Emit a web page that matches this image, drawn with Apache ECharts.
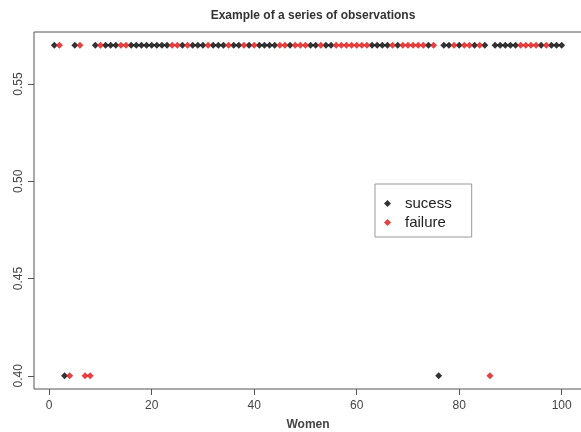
<!DOCTYPE html>
<html>
<head>
<meta charset="utf-8">
<script src="https://cdn.jsdelivr.net/npm/echarts@6/dist/echarts.min.js"></script>
<style>html,body{margin:0;padding:0;background:#fff}#c{width:581px;height:432px}</style>
</head>
<body>
<div id="c"></div>
<script>
const title = "Example of a series of observations";
const xName = "Women";
const xTicks = [0, 20, 40, 60, 80, 100];
const yTicks = [0.40, 0.45, 0.50, 0.55];
const legendNames = ["sucess", "failure"];

const successX = [1, 3, 5, 9, 11, 12, 13, 16, 17, 18, 19, 20, 21, 22, 23, 26, 28, 29, 30, 32, 33, 34, 36, 37, 39, 41, 42, 43, 44, 47, 51, 52, 54, 55, 63, 64, 65, 66, 68, 74, 76, 77, 78, 80, 83, 85, 87, 88, 89, 90, 91, 96, 98, 99, 100];
const successY = [0.57, 0.40, 0.57, 0.57, 0.57, 0.57, 0.57, 0.57, 0.57, 0.57, 0.57, 0.57, 0.57, 0.57, 0.57, 0.57, 0.57, 0.57, 0.57, 0.57, 0.57, 0.57, 0.57, 0.57, 0.57, 0.57, 0.57, 0.57, 0.57, 0.57, 0.57, 0.57, 0.57, 0.57, 0.57, 0.57, 0.57, 0.57, 0.57, 0.57, 0.40, 0.57, 0.57, 0.57, 0.57, 0.57, 0.57, 0.57, 0.57, 0.57, 0.57, 0.57, 0.57, 0.57, 0.57];
const failureX = [2, 4, 6, 7, 8, 10, 14, 15, 24, 25, 27, 31, 35, 38, 40, 45, 46, 48, 49, 50, 53, 56, 57, 58, 59, 60, 61, 62, 67, 69, 70, 71, 72, 73, 75, 79, 81, 82, 84, 86, 92, 93, 94, 95, 97];
const failureY = [0.57, 0.40, 0.57, 0.40, 0.40, 0.57, 0.57, 0.57, 0.57, 0.57, 0.57, 0.57, 0.57, 0.57, 0.57, 0.57, 0.57, 0.57, 0.57, 0.57, 0.57, 0.57, 0.57, 0.57, 0.57, 0.57, 0.57, 0.57, 0.57, 0.57, 0.57, 0.57, 0.57, 0.57, 0.57, 0.57, 0.57, 0.57, 0.57, 0.40, 0.57, 0.57, 0.57, 0.57, 0.57];

const zip = (xs, ys) => xs.map((x, i) => [x, ys[i]]);
const font = "Liberation Sans, Arial, sans-serif";
const axisCol = "#555";
const diamond = "path://M0,-1L1,0L0,1L-1,0Z";

const chart = echarts.init(document.getElementById('c'), null, {renderer: 'canvas'});
chart.setOption({
  animation: false,
  backgroundColor: '#fff',
  title: {
    text: title, left: 308, textAlign: 'center', top: 5,
    textStyle: {fontFamily: font, fontSize: 12, fontWeight: 'bold', color: '#333'}
  },
  grid: {left: 34, top: 32, width: 548, height: 357, containLabel: false, outerBoundsMode: 'none',
    show: true, borderColor: axisCol, borderWidth: 1, backgroundColor: 'transparent'},
  legend: {
    left: 375, top: 184, orient: 'vertical',
    padding: [12, 20, 7, 9], itemGap: 4,
    borderColor: '#999', borderWidth: 1, backgroundColor: '#fff',
    itemWidth: 7, itemHeight: 7,
    textStyle: {fontFamily: font, fontSize: 15, lineHeight: 14, color: '#222', padding: [0, 0, 0, 9]},
    data: [{name: legendNames[0], icon: diamond}, {name: legendNames[1], icon: diamond}]
  },
  xAxis: {
    type: 'value', min: -2.96, max: 103.96,
    name: xName, nameLocation: 'middle', nameGap: 30,
    nameTextStyle: {fontFamily: font, fontSize: 12, fontWeight: 'bold', color: '#444'},
    splitLine: {show: false},
    axisLine: {show: false, onZero: false},
    axisTick: {show: true, customValues: xTicks, length: 6, lineStyle: {color: axisCol}},
    axisLabel: {customValues: xTicks, margin: 11, fontFamily: font, fontSize: 12, color: '#444'}
  },
  yAxis: {
    type: 'value', min: 0.3932, max: 0.5768,
    splitLine: {show: false},
    axisLine: {show: false, onZero: false},
    axisTick: {show: true, customValues: yTicks, length: 6, lineStyle: {color: axisCol}},
    axisLabel: {customValues: yTicks, rotate: 90, margin: 9, fontFamily: font, fontSize: 12, color: '#444',
      formatter: v => v.toFixed(2)}
  },
  series: [
    {name: legendNames[0], type: 'scatter', data: zip(successX, successY), symbol: diamond, symbolSize: 7,
     itemStyle: {color: '#000'}},
    {name: legendNames[1], type: 'scatter', data: zip(failureX, failureY), symbol: diamond, symbolSize: 7,
     itemStyle: {color: '#e01010'}}
  ]
});
</script>
</body>
</html>
